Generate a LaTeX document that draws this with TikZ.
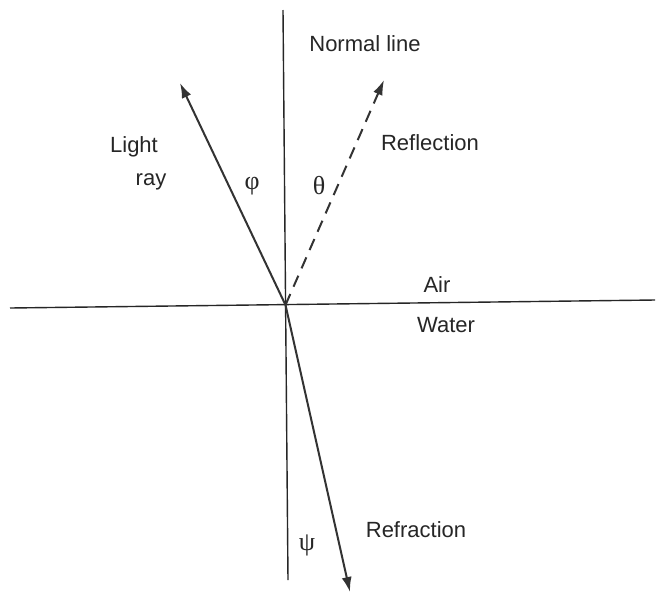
\documentclass[tikz,border=0pt]{standalone}
\usepackage{fontspec}
\setmainfont{Liberation Sans}
\newfontfamily\greekfont{Liberation Serif}
\usetikzlibrary{arrows.meta}
\begin{document}
\begin{tikzpicture}[x=1pt,y=-1pt,
  axis/.style={line width=1.4pt,draw=black!85},
  ray/.style={line width=2pt,draw=black!80,-{Latex[length=15pt,width=10pt]}},
  lbl/.style={font=\fontsize{22}{26}\selectfont,text=black!85,inner sep=0pt},
  glbl/.style={font=\greekfont\fontsize{26}{30}\selectfont,text=black!85,inner sep=0pt}]
\useasboundingbox[fill=white] (0,0) rectangle (658,598);
\coordinate (ntop) at (283,10);
\coordinate (nbot) at (288,580);
\coordinate (hl) at (10,308);
\coordinate (hr) at (655,300);
\coordinate (o) at (285.5,305);
\coordinate (lt) at (180,83);
\coordinate (rt) at (384,80);
\coordinate (ft) at (350,592);
\draw[axis] (ntop) -- (nbot);
\draw[axis] (hl) -- (hr);
\draw[ray] (o) -- (lt);
\draw[ray,dash pattern=on 12pt off 8pt] (o) -- (rt);
\draw[ray] (o) -- (ft);
\node[lbl] (nl) at (365,44) {Normal line};
\node[lbl] (refl) at (430,143) {Reflection};
\node[lbl] (light) at (134,147) {Light};
\node[lbl] (ray) at (151,182) {ray};
\node[glbl] (phi) at (252,186) {φ};
\node[glbl] (theta) at (319,186) {θ};
\node[lbl] (air) at (437,285) {Air};
\node[lbl] (water) at (446,325) {Water};
\node[glbl] (psi) at (307,545) {ψ};
\node[lbl] (refr) at (416,530) {Refraction};
\end{tikzpicture}
\end{document}
